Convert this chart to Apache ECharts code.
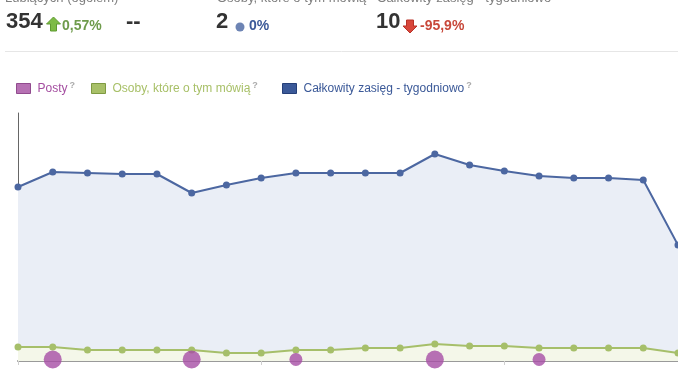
<!DOCTYPE html>
<html><head><meta charset="utf-8">
<script src="https://cdn.jsdelivr.net/npm/echarts@6/dist/echarts.min.js"></script>
<style>html,body{margin:0;padding:0;background:#fff}#c{width:678px;height:375px}</style>
</head><body><div id="c"></div>
<script>
// ---- data ----
const days = ['1','2','3','4','5','6','7','8','9','10','11','12','13','14','15','16','17','18','19','20'];
const reachWeekly = [174,189,188,187,187,168,176,183,188,188,188,188,207,196,190,185,183,183,181,116];
const talkingAbout = [14,14,11,11,11,11,8,8,11,11,13,13,17,15,15,13,13,13,13,8];
const posts = [0,2,0,0,0,2,0,0,1,0,0,0,2,0,0,1,0,0,0,0];
const seriesNames = ['Posty','Osoby, które o tym mówią','Całkowity zasięg - tygodniowo'];
const headerLabels = ['Łubiących (ogółem)','-','Osoby, które o tym mówią','Całkowity zasięg - tygodniowo'];
const headerValues = ['354','--','2','10'];
const headerChanges = ['0,57%','','0%','-95,9%'];

const chart = echarts.init(document.getElementById('c'));
const FONT = 'Liberation Sans, Arial, sans-serif';
const postsData = posts.map((p,i)=> p>0 ? [i, 1.5, p] : null).filter(Boolean);

function legendFor(idx, left, color, border){
  return {
    left: left, top: 76, icon: 'rect', itemWidth: 14, itemHeight: 10, itemGap: 0,
    data: [{name: seriesNames[idx], itemStyle: {color: color, borderColor: border, borderWidth: 1}}],
    formatter: n => '{n|' + n + '}{q|?}',
    textStyle: {fontFamily: FONT, fontSize: 12, color: color,
      rich: {n: {color: color, fontFamily: FONT, fontSize: 12, padding: [0,0,0,2]},
             q: {color: '#aaa', fontFamily: FONT, fontSize: 9, fontWeight: 'bold', padding: [0,0,6,2]}}}
  };
}

const option = {
  animation: false,
  grid: {left: 18, right: 0, top: 113, bottom: 14},
  xAxis: {
    type: 'category', data: days, boundaryGap: false,
    axisLine: {lineStyle: {color: '#9a9a9a', width: 2}},
    axisTick: {show: true, interval: i => i % 7 === 0, length: 4, lineStyle: {color: '#cfcfcf'}},
    axisLabel: {show: false}, splitLine: {show: false}
  },
  yAxis: {
    type: 'value', min: 0, max: 248,
    axisLine: {show: true, lineStyle: {color: '#666', width: 1}},
    axisTick: {show: false}, axisLabel: {show: false}, splitLine: {show: false}
  },
  legend: [
    legendFor(0, 11, '#a44ea0', '#7e2f7b'),
    legendFor(1, 86, '#a8c068', '#7f9a42'),
    legendFor(2, 277, '#3b5998', '#253f78')
  ],
  series: [
    {name: seriesNames[2], type: 'line', data: reachWeekly, symbol: 'circle', symbolSize: 7,
     lineStyle: {color: '#4c67a1', width: 2}, itemStyle: {color: '#4c67a1'},
     areaStyle: {color: '#eaeef6', opacity: 1}, z: 2},
    {name: seriesNames[1], type: 'line', data: talkingAbout, symbol: 'circle', symbolSize: 7,
     lineStyle: {color: '#a6bf6a', width: 2}, itemStyle: {color: '#a6bf6a'},
     areaStyle: {color: '#f4f7e9', opacity: 1}, z: 3},
    {name: seriesNames[0], type: 'scatter', data: postsData,
     symbolSize: v => v[2] >= 2 ? 18 : 13,
     itemStyle: {color: '#a64ea5'}, z: 5}
  ],
  graphic: [
    // header labels (cut off at top)
    {type:'text', left: 5, top: -8, style:{text: headerLabels[0], font: '13px ' + FONT, fill:'#7f7f7f'}},
    {type:'text', left: 143, top: -8, style:{text: headerLabels[1], font: '13px ' + FONT, fill:'#7f7f7f'}},
    {type:'text', left: 217, top: -8, style:{text: headerLabels[2], font: '13px ' + FONT, fill:'#7f7f7f'}},
    {type:'text', left: 377, top: -8, style:{text: headerLabels[3], font: '13px ' + FONT, fill:'#7f7f7f'}},
    // big numbers
    {type:'text', left: 6, top: 11, style:{text: headerValues[0], font: 'bold 22px ' + FONT, fill:'#333'}},
    {type:'text', left: 126, top: 11, style:{text: headerValues[1], font: 'bold 22px ' + FONT, fill:'#333'}},
    {type:'text', left: 216, top: 11, style:{text: headerValues[2], font: 'bold 22px ' + FONT, fill:'#333'}},
    {type:'text', left: 376, top: 11, style:{text: headerValues[3], font: 'bold 22px ' + FONT, fill:'#333'}},
    // change indicators
    {type:'polygon', shape:{points:[[53.5,17],[60.5,24],[56.5,24],[56.5,31],[50.5,31],[50.5,24],[46.5,24]]},
     style:{fill:'#7dbb45', stroke:'#5e9a30', lineWidth:1}},
    {type:'text', left: 62, top: 19, style:{text: headerChanges[0], font: 'bold 14px ' + FONT, fill:'#6e9b4b'}},
    {type:'circle', shape:{cx: 240, cy: 27, r: 4.5}, style:{fill:'#6d84b4'}},
    {type:'text', left: 249, top: 19, style:{text: headerChanges[2], font: 'bold 14px ' + FONT, fill:'#3b5998'}},
    {type:'polygon', shape:{points:[[406.5,20],[413.5,20],[413.5,26],[417,26],[410,33],[403,26],[406.5,26]]},
     style:{fill:'#d8473b', stroke:'#b83228', lineWidth:1}},
    {type:'text', left: 420, top: 19, style:{text: headerChanges[3], font: 'bold 14px ' + FONT, fill:'#c8483a'}},
    // separator
    {type:'line', shape:{x1: 5, y1: 51.5, x2: 678, y2: 51.5}, style:{stroke:'#e6e6e6', lineWidth:1}}
  ]
};
chart.setOption(option);
</script></body></html>
